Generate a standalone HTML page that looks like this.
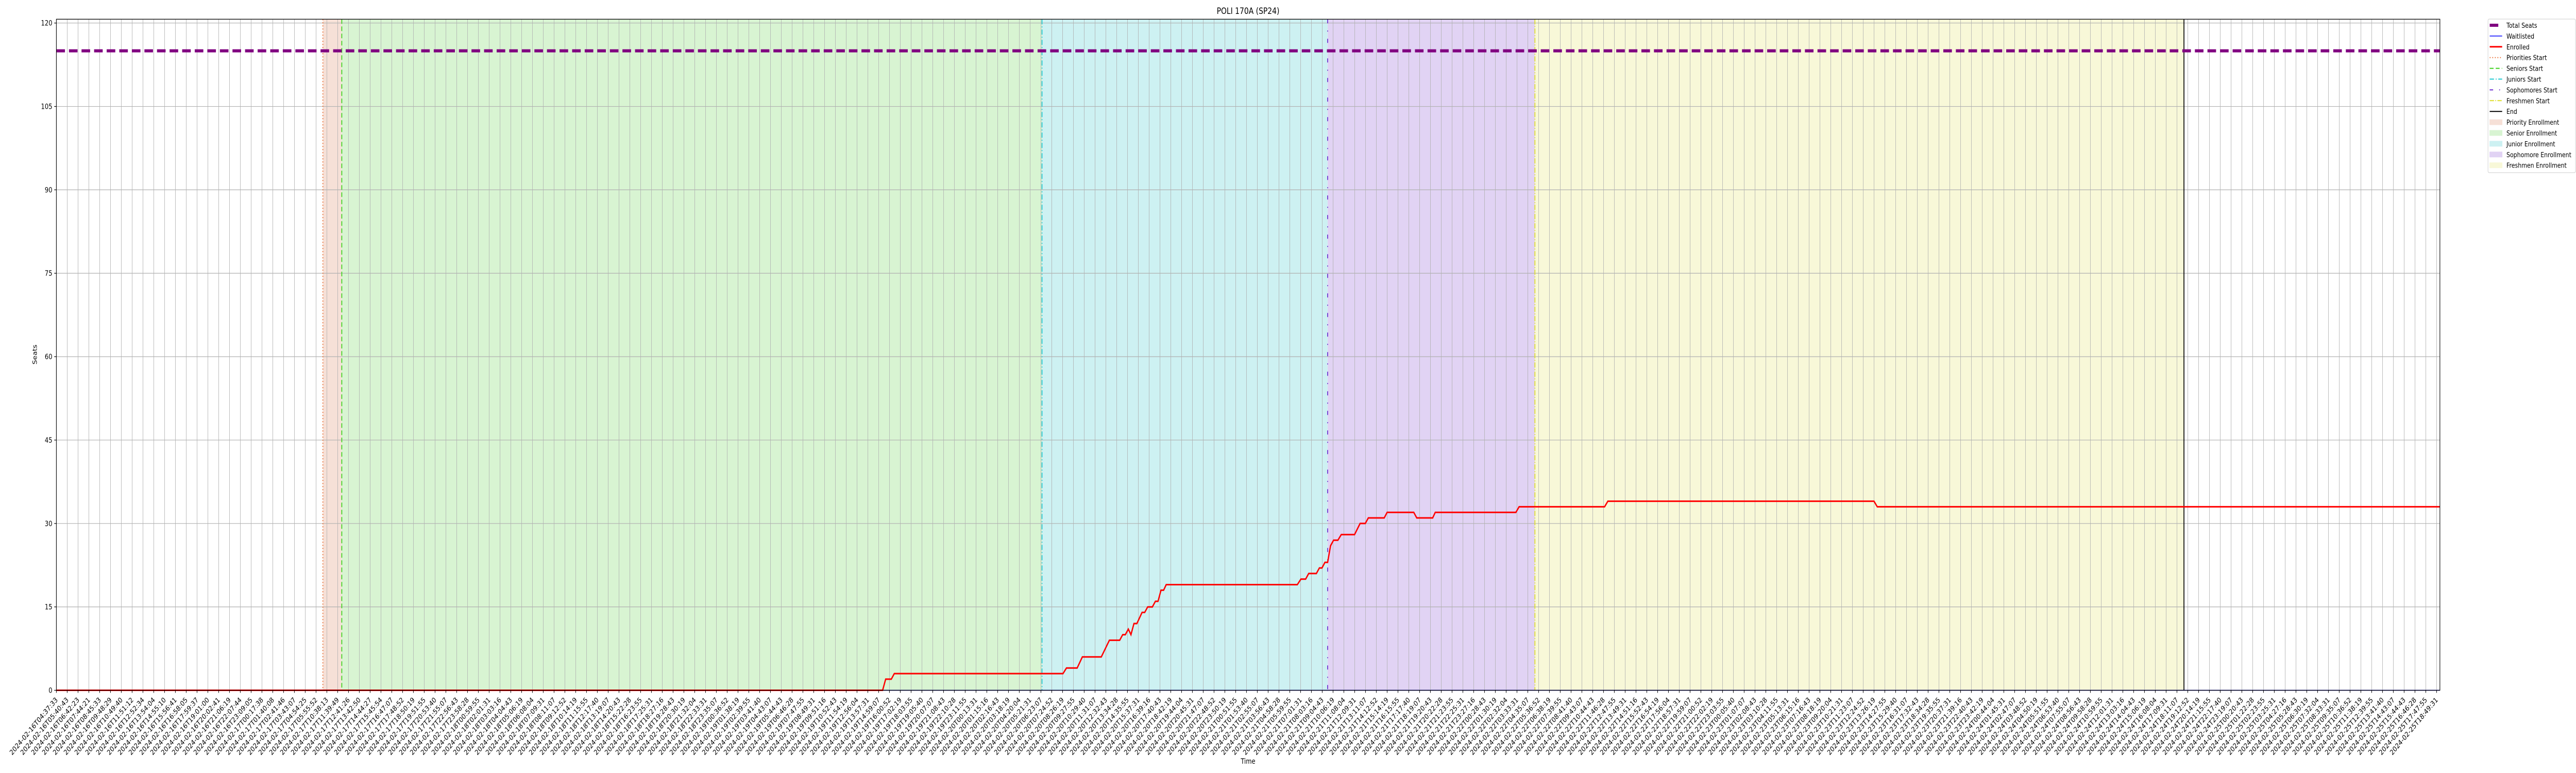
<!DOCTYPE html>
<html><head><meta charset="utf-8"><style>
html,body{margin:0;padding:0;background:#fff;width:100vw;height:100vh;overflow:hidden;}
svg{display:block;font-family:"DejaVu Sans","Liberation Sans",sans-serif;overflow:hidden;width:100vw;height:100vh;}
</style></head><body>
<svg id="chart" viewBox="0 0 6000 1500" preserveAspectRatio="none" xmlns="http://www.w3.org/2000/svg">
<g id="spans"></g>
<g id="grid"></g>
<g id="vlines"></g>
<g id="series"></g>
<rect x="131.3" y="37.3" width="5551.7" height="1302.2" fill="none" stroke="#000" stroke-width="1.3"/>
<g id="yaxis"></g>
<g id="xaxis"></g>
<text x="2907" y="27" font-size="16.7" text-anchor="middle">POLI 170A (SP24)</text>
<text x="2907" y="1482" font-size="13.9" text-anchor="middle">Time</text>
<text x="0" y="0" font-size="13.9" text-anchor="middle" transform="translate(86,688) rotate(-90)">Seats</text>
<g id="legend"></g>
</svg>
<script>
// ---- data ----
const yTicks = [0, 15, 30, 45, 60, 75, 90, 105, 120];
const totalSeats = [115];
const waitX = [0, 220.3];
const waitY = [0, 0];
const enrolledX = [0, 76.37, 76.65, 77.17, 77.45, 93.04, 93.36, 94.35, 94.83, 96.58, 97.33, 98.28, 98.56, 98.8, 99.08, 99.32, 99.6, 99.87, 100.35, 100.59, 100.87, 101.3, 101.58, 101.82, 102.1, 102.34, 102.58, 114.7, 115.03, 115.47, 115.75, 116.46, 116.74, 116.98, 117.25, 117.5, 117.77, 118.05, 118.45, 118.76, 119.99, 120.5, 120.98, 121.26, 122.73, 123.0, 125.46, 125.74, 127.21, 127.45, 134.9, 135.2, 143.1, 143.4, 168.0, 168.3, 220.3];
const enrolledY = [0, 0, 2, 2, 3, 3, 4, 4, 6, 6, 9, 9, 10, 10, 11, 10, 12, 12, 14, 14, 15, 15, 16, 16, 18, 18, 19, 19, 20, 20, 21, 21, 22, 22, 23, 23, 26, 27, 27, 28, 28, 30, 30, 31, 31, 32, 32, 31, 31, 32, 32, 33, 33, 34, 34, 33, 33];
const phaseNames = ["Priority", "Senior", "Junior", "Sophomore", "Freshmen"];
const phaseStarts = [24.63, 26.38, 91.1, 117.5, 136.66];
const phaseEnds = [26.38, 91.1, 117.5, 136.66, 196.65];
const endTime = [196.65];
const knownLabels = ["2024-02-16T04:37:33","2024-02-16T05:40:43","2024-02-16T06:42:23","2024-02-16T07:44:21","2024-02-16T08:45:33","2024-02-16T09:48:29","2024-02-16T10:49:40","2024-02-16T11:51:12","2024-02-16T12:52:34","2024-02-16T13:54:04","2024-02-16T14:55:10","2024-02-16T15:56:41","2024-02-16T16:58:05","2024-02-16T17:59:37","2024-02-16T19:01:00","2024-02-16T20:02:41","2024-02-16T21:06:19","2024-02-16T22:07:44","2024-02-16T23:09:05","2024-02-17T00:17:38","2024-02-17T01:40:08","2024-02-17T02:41:46","2024-02-17T03:43:07","2024-02-17T04:54:25","2024-02-17T05:55:52","2024-02-17T10:38:13","2024-02-17T11:39:49","2024-02-17T12:41:26","2024-02-17T13:42:50","2024-02-17T14:44:27","2024-02-17T15:45:54","2024-02-17T16:47:07"];
const tickLabels = knownLabels.slice();
(function(){let t=Date.UTC(2024,1,17,16,47,7);for(let i=tickLabels.length;i<221;i++){t+=61*60000+27000+(i%3)*9000;const d=new Date(t);tickLabels.push(d.toISOString().slice(0,19));}})();

// ---- scales ----
const X0 = 131.3, XS = 25.2, Y0 = 1339.5, YS = 10.79;
const xs = u => X0 + u * XS;
const ys = v => Y0 - v * YS;
const NS = "http://www.w3.org/2000/svg";
function mk(tag, attrs, parent){const e=document.createElementNS(NS,tag);for(const k in attrs)e.setAttribute(k,attrs[k]);parent.appendChild(e);return e;}

const spanColors = ["#f6e0d7","#d8f4d2","#cdf1f2","#e1d3f4","#f8f8d8"];
const lineColors = ["#e8692c","#3cd11c","#1cc8d0","#6a2bd0","#dede2a"];
const lineDash = ["2,4","9,5","10,4,2,4","8,14,2,14","10,3,2,3"];

const gSpans = document.getElementById('spans');
phaseStarts.forEach((s,i)=>{
  const r = mk('rect',{x:xs(s),y:37.3,width:xs(phaseEnds[i])-xs(s),height:1302.2,fill:spanColors[i]},gSpans);
  
  
});

const gGrid = document.getElementById('grid');
tickLabels.forEach((l,i)=>{
  const ln = mk('line',{x1:xs(i),x2:xs(i),y1:37.3,y2:1339.5,stroke:"#b0b0b0","stroke-width":1},gGrid);
  
  
});
yTicks.forEach(v=>{
  const ln = mk('line',{x1:131.3,x2:5683,y1:ys(v),y2:ys(v),stroke:"#b0b0b0","stroke-width":1.2},gGrid);
  
  
});

const gV = document.getElementById('vlines');
phaseStarts.forEach((s,i)=>{
  const ln = mk('line',{x1:xs(s),x2:xs(s),y1:37.3,y2:1339.5,stroke:lineColors[i],"stroke-width":2,"stroke-dasharray":lineDash[i]},gV);
  
  
});
const endLn = mk('line',{x1:xs(endTime[0]),x2:xs(endTime[0]),y1:37.3,y2:1339.5,stroke:"#000","stroke-width":2},gV);



const gS = document.getElementById('series');
const ts = mk('line',{x1:131.3,x2:5683,y1:ys(totalSeats[0]),y2:ys(totalSeats[0]),stroke:"#800080","stroke-width":6,"stroke-dasharray":"20,9.3"},gS);


const wl = mk('polyline',{points:waitX.map((x,i)=>xs(x)+","+ys(waitY[i])).join(" "),fill:"none",stroke:"#0000ff","stroke-width":1.5},gS);


const en = mk('polyline',{points:enrolledX.map((x,i)=>xs(x).toFixed(1)+","+ys(enrolledY[i]).toFixed(1)).join(" "),fill:"none",stroke:"#ff0000","stroke-width":3,"stroke-linejoin":"miter"},gS);



const gY = document.getElementById('yaxis');
yTicks.forEach(v=>{
  const t = mk('line',{x1:126.3,x2:131.3,y1:ys(v),y2:ys(v),stroke:"#000","stroke-width":1.2},gY);
  
  
  const tx = mk('text',{x:122,y:ys(v)+5,"font-size":13.9,"text-anchor":"end"},gY);
  tx.textContent = v;
  
  
});

const gX = document.getElementById('xaxis');
tickLabels.forEach((l,i)=>{
  const x = xs(i);
  const t = mk('line',{x1:x,x2:x,y1:1339.5,y2:1344.5,stroke:"#000","stroke-width":1.2},gX);
  
  
  const tx = mk('text',{x:0,y:0,"font-size":13.9,"text-anchor":"end",transform:`translate(${(x+4).toFixed(1)},1359) rotate(-45)`},gX);
  tx.textContent = l;
  
  
});

// legend
const gL = document.getElementById('legend');
const lb = mk('rect',{x:5795,y:37,width:204,height:298,rx:3,fill:"#fff","fill-opacity":0.8,stroke:"#cccccc","stroke-width":1},gL);


const legItems = [
 ["Total Seats","line","#800080",6,""],
 ["Waitlisted","line","#0000ff",1.5,""],
 ["Enrolled","line","#ff0000",3,""],
 ["Priorities Start","line",lineColors[0],2,lineDash[0]],
 ["Seniors Start","line",lineColors[1],2,lineDash[1]],
 ["Juniors Start","line",lineColors[2],2,lineDash[2]],
 ["Sophomores Start","line",lineColors[3],2,lineDash[3]],
 ["Freshmen Start","line",lineColors[4],2,lineDash[4]],
 ["End","line","#000",2,""],
 ["Priority Enrollment","patch",spanColors[0]],
 ["Senior Enrollment","patch",spanColors[1]],
 ["Junior Enrollment","patch",spanColors[2]],
 ["Sophomore Enrollment","patch",spanColors[3]],
 ["Freshmen Enrollment","patch",spanColors[4]]
];
legItems.forEach((it,i)=>{
  const cy = 49 + i*20.9;
  let h;
  if(it[1]==="line"){
    h = mk('line',{x1:5799,x2:5828,y1:cy,y2:cy,stroke:it[2],"stroke-width":it[3]},gL);
    if(it[4]) h.setAttribute('stroke-dasharray', it[4]);
    if(i===0){h.setAttribute('x2','5819');}
  } else {
    h = mk('rect',{x:5799,y:cy-5,width:29,height:10,fill:it[2],stroke:it[2]},gL);
  }
  
  
  const tx = mk('text',{x:5838,y:cy+5,"font-size":13.2},gL);
  tx.textContent = it[0];
  
  
});
</script>
</body></html>
